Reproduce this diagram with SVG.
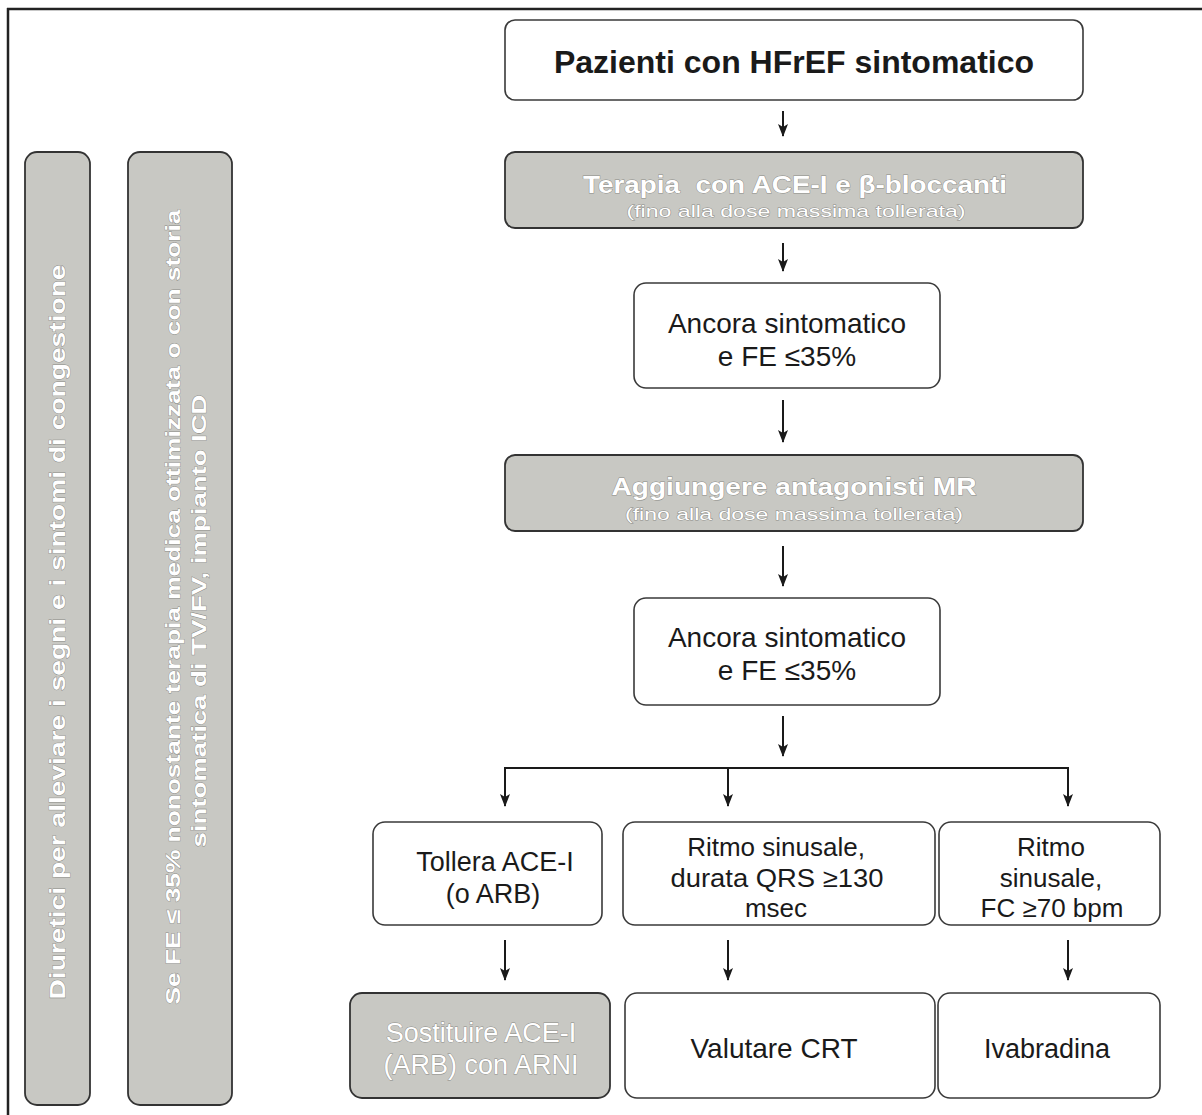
<svg xmlns="http://www.w3.org/2000/svg" width="1202" height="1115" viewBox="0 0 1202 1115">
  <defs>
    <marker id="arrow" markerWidth="14" markerHeight="12" refX="12" refY="6" orient="auto" markerUnits="userSpaceOnUse" viewBox="0 0 14 12">
      <path d="M0,1 L13,6 L0,11 L3,6 Z" fill="#1a1a1a"/>
    </marker>
    <style>
      .box { fill: #ffffff; stroke: #3a3a3a; stroke-width: 1.6; }
      .gbox { fill: #c8c8c3; stroke: #333333; stroke-width: 1.8; }
      .t { font-family: "Liberation Sans", Arial, sans-serif; fill: #1a1a1a; text-anchor: middle; }
      .w { font-family: "Liberation Sans", Arial, sans-serif; fill: #ffffff; text-anchor: middle; stroke: #8a8a86; stroke-width: 0.8; paint-order: stroke; }
      .b { font-weight: bold; }
      .conn line, .conn polyline { stroke: #1a1a1a; stroke-width: 2; fill: none; }
    </style>
  </defs>

  <rect width="1202" height="1115" fill="#ffffff"/>

  <!-- outer frame: top and left rules -->
  <g id="frame">
    <line x1="7" y1="9" x2="1202" y2="9" stroke="#222" stroke-width="2.5"/>
    <line x1="8" y1="8" x2="8" y2="1115" stroke="#222" stroke-width="2.5"/>
  </g>

  <!-- vertical side bars -->
  <g id="side-diuretici">
    <rect class="gbox" x="25" y="152" width="65" height="953" rx="12"/>
    <text class="w b" font-size="22" textLength="735" lengthAdjust="spacingAndGlyphs" transform="translate(65,632) rotate(-90)">Diuretici per alleviare i segni e i sintomi di congestione</text>
  </g>
  <g id="side-icd">
    <rect class="gbox" x="128" y="152" width="104" height="953" rx="12"/>
    <text class="w b" font-size="21" textLength="795" lengthAdjust="spacingAndGlyphs" transform="translate(180,607) rotate(-90)">Se FE ≤ 35% nonostante terapia medica ottimizzata o con storia</text>
    <text class="w b" font-size="21" textLength="453" lengthAdjust="spacingAndGlyphs" transform="translate(206,621) rotate(-90)">sintomatica di TV/FV, impianto ICD</text>
  </g>

  <!-- flow nodes -->
  <g id="n-pazienti">
    <rect class="box" x="505" y="20" width="578" height="80" rx="10"/>
    <text class="t b" x="794" y="73" font-size="32">Pazienti con HFrEF sintomatico</text>
  </g>
  <g id="n-terapia">
    <rect class="gbox" x="505" y="152" width="578" height="76" rx="10"/>
    <text class="w b" x="795" y="193" font-size="23" textLength="424" lengthAdjust="spacingAndGlyphs" xml:space="preserve">Terapia  con ACE-I e β-bloccanti</text>
    <text class="w" x="796" y="217" font-size="17" textLength="339" lengthAdjust="spacingAndGlyphs">(fino alla dose massima tollerata)</text>
  </g>
  <g id="n-ancora1">
    <rect class="box" x="634" y="283" width="306" height="105" rx="12"/>
    <text class="t" x="787" y="333" font-size="28">Ancora sintomatico</text>
    <text class="t" x="787" y="366" font-size="28">e FE ≤35%</text>
  </g>
  <g id="n-antagonisti">
    <rect class="gbox" x="505" y="455" width="578" height="76" rx="10"/>
    <text class="w b" x="794" y="495" font-size="23" textLength="365" lengthAdjust="spacingAndGlyphs">Aggiungere antagonisti MR</text>
    <text class="w" x="794" y="520" font-size="17" textLength="338" lengthAdjust="spacingAndGlyphs">(fino alla dose massima tollerata)</text>
  </g>
  <g id="n-ancora2">
    <rect class="box" x="634" y="598" width="306" height="107" rx="12"/>
    <text class="t" x="787" y="647" font-size="28">Ancora sintomatico</text>
    <text class="t" x="787" y="680" font-size="28">e FE ≤35%</text>
  </g>
  <g id="n-tollera">
    <rect class="box" x="373" y="822" width="229" height="103" rx="12"/>
    <text class="t" x="495" y="871" font-size="27">Tollera ACE-I</text>
    <text class="t" x="493" y="903" font-size="27">(o ARB)</text>
  </g>
  <g id="n-qrs">
    <rect class="box" x="623" y="822" width="312" height="103" rx="12"/>
    <text class="t" x="776" y="856" font-size="26">Ritmo sinusale,</text>
    <text class="t" x="777" y="887" font-size="26" textLength="213" lengthAdjust="spacingAndGlyphs">durata QRS ≥130</text>
    <text class="t" x="776" y="917" font-size="26">msec</text>
  </g>
  <g id="n-fc">
    <rect class="box" x="939" y="822" width="221" height="103" rx="12"/>
    <text class="t" x="1051" y="856" font-size="26">Ritmo</text>
    <text class="t" x="1051" y="887" font-size="26">sinusale,</text>
    <text class="t" x="1052" y="917" font-size="26">FC ≥70 bpm</text>
  </g>
  <g id="n-arni">
    <rect class="gbox" x="350" y="993" width="260" height="105" rx="12"/>
    <text class="w" x="481" y="1042" font-size="27">Sostituire ACE-I</text>
    <text class="w" x="481" y="1074" font-size="27">(ARB) con ARNI</text>
  </g>
  <g id="n-crt">
    <rect class="box" x="625" y="993" width="310" height="105" rx="12"/>
    <text class="t" x="774" y="1058" font-size="28">Valutare CRT</text>
  </g>
  <g id="n-ivabradina">
    <rect class="box" x="938" y="993" width="222" height="105" rx="12"/>
    <text class="t" x="1047" y="1058" font-size="27">Ivabradina</text>
  </g>

  <!-- connectors -->
  <g class="conn" id="connectors">
    <line x1="783" y1="111" x2="783" y2="136" marker-end="url(#arrow)"/>
    <line x1="783" y1="243" x2="783" y2="271" marker-end="url(#arrow)"/>
    <line x1="783" y1="400" x2="783" y2="442" marker-end="url(#arrow)"/>
    <line x1="783" y1="546" x2="783" y2="586" marker-end="url(#arrow)"/>
    <line x1="783" y1="716" x2="783" y2="756" marker-end="url(#arrow)"/>
    <polyline points="505,768 1068,768 1068,806" marker-end="url(#arrow)"/>
    <line x1="505" y1="767" x2="505" y2="806" marker-end="url(#arrow)"/>
    <line x1="728" y1="768" x2="728" y2="806" marker-end="url(#arrow)"/>
    <line x1="505" y1="940" x2="505" y2="980" marker-end="url(#arrow)"/>
    <line x1="728" y1="940" x2="728" y2="980" marker-end="url(#arrow)"/>
    <line x1="1068" y1="940" x2="1068" y2="980" marker-end="url(#arrow)"/>
  </g>
</svg>
